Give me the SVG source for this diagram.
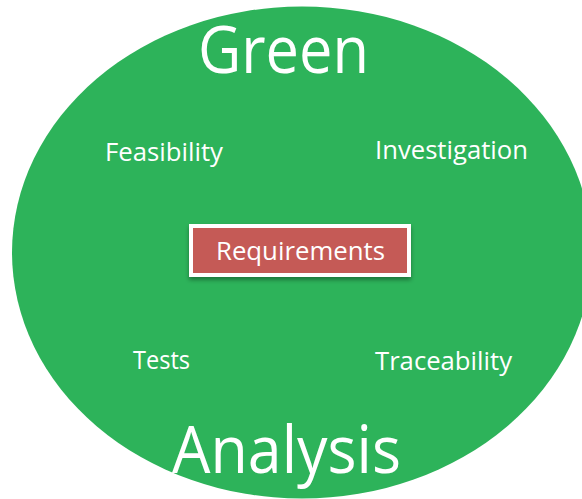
<svg xmlns="http://www.w3.org/2000/svg" width="582" height="499" viewBox="0 0 582 499">
<defs>
<style>
.t{font-family:"Open Sans","Noto Sans","Liberation Sans",sans-serif;fill:#ffffff;text-anchor:middle}
.big{font-size:65px}
.lbl{font-size:25px}
</style>
<filter id="sh" x="-10%" y="-20%" width="120%" height="150%">
<feDropShadow dx="0" dy="3" stdDeviation="2" flood-color="#000" flood-opacity="0.35"/>
</filter>
</defs>
<rect width="582" height="499" fill="#ffffff"/>
<g id="circle">
<ellipse cx="302" cy="252.5" rx="290" ry="246" fill="#2DB35A"/>
<text class="t big" x="283.5" y="73" textLength="171" lengthAdjust="spacingAndGlyphs">Green</text>
<text class="t big" x="286.5" y="473" textLength="229" lengthAdjust="spacingAndGlyphs">Analysis</text>
</g>
<g id="feasibility"><text class="t lbl" x="164" y="161" textLength="118" lengthAdjust="spacingAndGlyphs">Feasibility</text></g>
<g id="investigation"><text class="t lbl" x="451.5" y="159" textLength="153" lengthAdjust="spacingAndGlyphs">Investigation</text></g>
<g id="tests"><text class="t lbl" x="161.5" y="369" textLength="57" lengthAdjust="spacingAndGlyphs">Tests</text></g>
<g id="traceability"><text class="t lbl" x="443.5" y="370" textLength="137" lengthAdjust="spacingAndGlyphs">Traceability</text></g>
<g id="requirements">
<rect x="189" y="224" width="222" height="53" fill="#ffffff" filter="url(#sh)"/>
<rect x="193" y="228" width="214" height="45" fill="#C55A56"/>
<text class="t lbl" x="300.5" y="260" textLength="169" lengthAdjust="spacingAndGlyphs">Requirements</text>
</g>
<g id="connectors"/>
</svg>
